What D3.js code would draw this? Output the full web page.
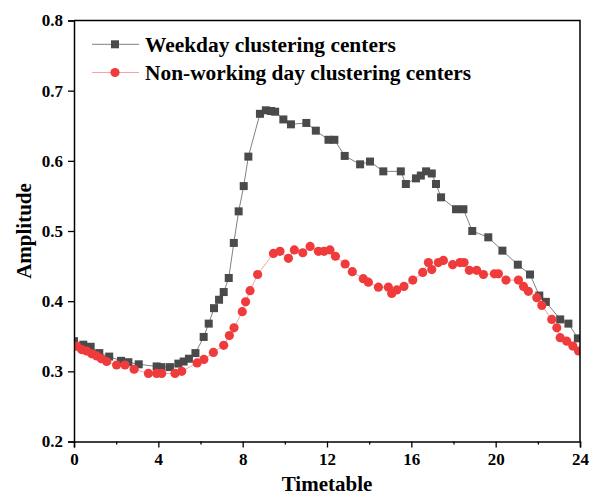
<!DOCTYPE html>
<html>
<head>
<meta charset="utf-8">
<script src="https://cdn.jsdelivr.net/npm/d3@7"></script>
<style>
  body { margin: 0; background: #fff; }
  svg { display: block; font-family: "Liberation Serif", "Times New Roman", serif; font-weight: bold; }
</style>
</head>
<body>
<svg id="chart"></svg>
<script>
// Data (hour of day, amplitude)
const weekdayHours = [0.00, 0.44, 0.79, 1.20, 1.67, 2.23, 2.58, 3.07, 3.92, 4.15, 4.55, 4.95, 5.20, 5.45, 5.76,
  6.15, 6.39, 6.64, 6.88, 7.10, 7.34, 7.58, 7.81, 8.05, 8.27, 8.82, 9.10, 9.35, 9.54, 9.93, 10.29, 11.02,
  11.47, 12.07, 12.35, 12.84, 13.57, 14.04, 14.67, 15.50, 15.74, 16.22, 16.45, 16.70, 16.97, 17.17, 17.41,
  18.12, 18.47, 18.89, 19.65, 20.32, 21.05, 21.63, 22.07, 22.38, 23.06, 23.45, 23.90];
const weekdayValues = [0.343, 0.338, 0.335, 0.326, 0.321, 0.315, 0.313, 0.310, 0.307, 0.306, 0.306, 0.311, 0.314, 0.318, 0.326,
  0.349, 0.368, 0.390, 0.402, 0.413, 0.433, 0.483, 0.528, 0.564, 0.606, 0.667, 0.672, 0.671, 0.670, 0.659, 0.652, 0.654,
  0.643, 0.630, 0.630, 0.607, 0.595, 0.599, 0.585, 0.585, 0.567, 0.575, 0.579, 0.585, 0.582, 0.567, 0.548,
  0.531, 0.531, 0.500, 0.491, 0.472, 0.452, 0.438, 0.408, 0.399, 0.374, 0.368, 0.347];

const offdayHours = [0.00, 0.13, 0.36, 0.60, 0.84, 1.08, 1.30, 1.55, 2.02, 2.42, 2.85, 3.53, 3.92, 4.16, 4.79, 5.11,
  5.84, 6.16, 6.61, 7.10, 7.37, 7.59, 7.98, 8.14, 8.35, 8.71, 9.46, 9.77, 10.17, 10.45, 10.85, 11.20, 11.59,
  11.86, 12.14, 12.40, 12.86, 13.20, 13.72, 13.96, 14.44, 14.91, 15.07, 15.31, 15.65, 16.07, 16.54, 16.81,
  16.97, 17.28, 17.52, 17.96, 18.31, 18.50, 18.75, 19.10, 19.42, 19.94, 20.13, 20.49, 21.08, 21.32, 21.55,
  21.95, 22.19, 22.66, 22.90, 23.06, 23.37, 23.66, 23.93];
const offdayValues = [0.336, 0.336, 0.331, 0.329, 0.325, 0.322, 0.318, 0.314, 0.309, 0.309, 0.303, 0.297, 0.297, 0.297, 0.297, 0.300,
  0.312, 0.317, 0.327, 0.337, 0.351, 0.362, 0.385, 0.399, 0.415, 0.438, 0.468, 0.471, 0.461, 0.473, 0.469, 0.478, 0.471,
  0.471, 0.473, 0.464, 0.453, 0.442, 0.432, 0.427, 0.420, 0.420, 0.411, 0.416, 0.421, 0.430, 0.441, 0.455,
  0.445, 0.455, 0.458, 0.452, 0.455, 0.455, 0.444, 0.444, 0.438, 0.439, 0.439, 0.430, 0.430, 0.421, 0.414,
  0.405, 0.394, 0.374, 0.362, 0.348, 0.343, 0.336, 0.329];

const xTicks = [0, 4, 8, 12, 16, 20, 24];
const xMinorTicks = [2, 6, 10, 14, 18, 22];
const yTicks = [0.2, 0.3, 0.4, 0.5, 0.6, 0.7, 0.8];
const seriesNames = ["Weekday clustering centers", "Non-working day clustering centers"];

const width = 591, height = 496;
const margin = { left: 74, right: 11, top: 20.5, bottom: 54.5 };

const svg = d3.select("#chart").attr("width", width).attr("height", height);

const x = d3.scaleLinear().domain([0, 24]).range([margin.left, width - margin.right]);
const y = d3.scaleLinear().domain([0.2, 0.8]).range([height - margin.bottom, margin.top]);

const weekday = weekdayHours.map((h, i) => ({ h: h, v: weekdayValues[i] }));
const offday = offdayHours.map((h, i) => ({ h: h, v: offdayValues[i] }));

// clip marks to the plot box
svg.append("clipPath").attr("id", "plotclip")
  .append("rect")
  .attr("x", x(0)).attr("y", y(0.8))
  .attr("width", x(24) - x(0)).attr("height", y(0.2) - y(0.8));

const line = d3.line().x(d => x(d.h)).y(d => y(d.v));
const plot = svg.append("g").attr("clip-path", "url(#plotclip)");

// weekday series: gray line + dark squares
plot.append("path").datum(weekday)
  .attr("fill", "none").attr("stroke", "#808080").attr("stroke-width", 1)
  .attr("d", line);
plot.append("g").selectAll("rect")
  .data(weekday).enter().append("rect")
  .attr("x", d => x(d.h) - 4).attr("y", d => y(d.v) - 4)
  .attr("width", 8).attr("height", 8)
  .attr("fill", "#4a4a4a");

// non-working day series: light red line + red circles
plot.append("path").datum(offday)
  .attr("fill", "none").attr("stroke", "#f5a3a3").attr("stroke-width", 1)
  .attr("d", line);
plot.append("g").selectAll("circle")
  .data(offday).enter().append("circle")
  .attr("cx", d => x(d.h)).attr("cy", d => y(d.v))
  .attr("r", 4.6)
  .attr("fill", "#ef3b3b");

// axes
svg.append("g")
  .attr("transform", `translate(0,${y(0.2)})`)
  .call(d3.axisBottom(x).tickValues(xTicks).tickFormat(d3.format("d")).tickSize(6).tickPadding(5));
svg.append("g")
  .attr("transform", `translate(0,${y(0.2)})`)
  .call(d3.axisBottom(x).tickValues(xMinorTicks).tickFormat("").tickSize(3))
  .call(g => g.select(".domain").remove());
svg.append("g")
  .attr("transform", `translate(${x(0)},0)`)
  .call(d3.axisLeft(y).tickValues(yTicks).tickFormat(d3.format(".1f")).tickSize(6).tickPadding(5));

svg.selectAll(".tick line").attr("stroke", "#000").attr("stroke-width", 1.3);
svg.selectAll(".domain").attr("stroke", "#000").attr("stroke-width", 1.5);
svg.selectAll(".tick text")
  .attr("fill", "#000")
  .style("font-family", "'Liberation Serif', serif")
  .style("font-weight", "bold")
  .style("font-size", "17px");

// frame: top and right
svg.append("path")
  .attr("d", `M${x(0)},${y(0.8)}H${x(24)}V${y(0.2)}`)
  .attr("fill", "none").attr("stroke", "#000").attr("stroke-width", 1.5);

// axis titles
svg.append("text")
  .attr("x", (x(0) + x(24)) / 2).attr("y", 491)
  .attr("text-anchor", "middle")
  .style("font-size", "21px")
  .text("Timetable");
svg.append("text")
  .attr("transform", `translate(31,${(y(0.2) + y(0.8)) / 2}) rotate(-90)`)
  .attr("text-anchor", "middle")
  .style("font-size", "21px")
  .text("Amplitude");

// legend
const legend = svg.append("g");
const rowY = [44.3, 72.5];
legend.append("line")
  .attr("x1", 92).attr("x2", 139).attr("y1", rowY[0]).attr("y2", rowY[0])
  .attr("stroke", "#808080").attr("stroke-width", 1);
legend.append("rect")
  .attr("x", 115 - 4).attr("y", rowY[0] - 4).attr("width", 8).attr("height", 8)
  .attr("fill", "#4a4a4a");
legend.append("line")
  .attr("x1", 92).attr("x2", 139).attr("y1", rowY[1]).attr("y2", rowY[1])
  .attr("stroke", "#f5a3a3").attr("stroke-width", 1);
legend.append("circle")
  .attr("cx", 115).attr("cy", rowY[1]).attr("r", 4.6)
  .attr("fill", "#ef3b3b");
legend.selectAll("text")
  .data(seriesNames).enter().append("text")
  .attr("x", 145).attr("y", (d, i) => rowY[i] + 7.5)
  .style("font-size", "21.4px")
  .text(d => d);
</script>
</body>
</html>
